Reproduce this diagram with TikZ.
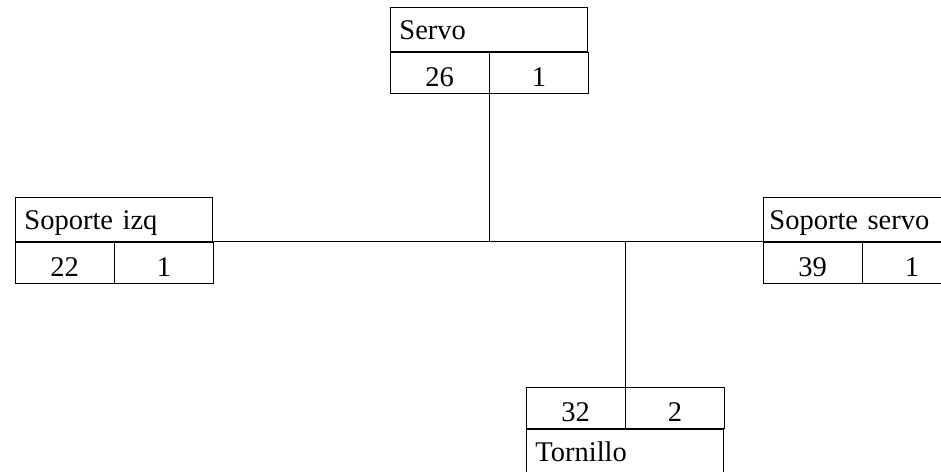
\documentclass[tikz,border=0pt]{standalone}
\usepackage{fontspec}
\setmainfont{Liberation Serif}
\begin{document}
\begin{tikzpicture}[x=1pt,y=-1pt,
  every node/.style={font=\fontsize{28.5}{32}\selectfont},
  title/.style={draw, line width=0.9pt, minimum width=197pt, minimum height=44pt,
    text width=179pt, inner xsep=9pt, inner ysep=0pt, align=left,
    text height=20pt, text depth=0pt, anchor=north west},
  cell/.style={draw, line width=0.9pt, minimum width=98.5pt, minimum height=41pt,
    inner sep=0pt, text height=27pt, text depth=0pt, anchor=north west},
  link/.style={line width=0.9pt}]
\useasboundingbox (0,0) rectangle (941,471);

% Servo
\node[title] (servo) at (390,7) {Servo};
\node[cell] (servoA) at (servo.south west) {26};
\node[cell] (servoB) at (servoA.north east) {1};

% Soporte izq
\node[title] (izq) at (15,197) {Soporte izq};
\node[cell] (izqA) at (izq.south west) {22};
\node[cell] (izqB) at (izqA.north east) {1};

% Soporte servo
\node[title, inner xsep=6pt, text width=185pt] (sserv) at (763,197) {Soporte servo};
\node[cell] (sservA) at (sserv.south west) {39};
\node[cell] (sservB) at (sservA.north east) {1};

% Tornillo
\node[cell] (tornA) at (526,387) {32};
\node[cell] (tornB) at (tornA.north east) {2};
\node[title] (torn) at (tornA.south west) {Tornillo};

% connectors
\draw[link] (izq.south east) -- (sserv.south west);
\coordinate (jServo) at (servoA.south east |- izq.south east);
\coordinate (jTorn) at (tornA.north east |- izq.south east);
\draw[link] (servoA.south east) -- (jServo);
\draw[link] (jTorn) -- (tornA.north east);
\end{tikzpicture}
\end{document}
